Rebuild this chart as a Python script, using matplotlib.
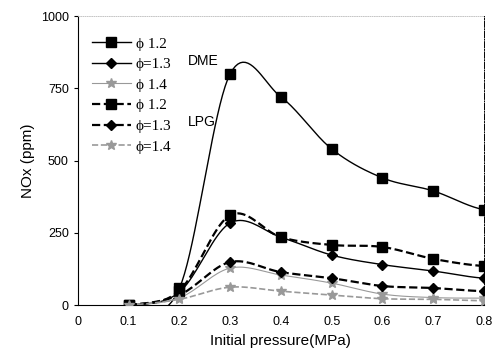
import numpy as np
import matplotlib.pyplot as plt
from matplotlib.lines import Line2D

plt.rcParams['font.family'] = ['Liberation Sans', 'DejaVu Sans']

p = np.array([0.1, 0.2, 0.3, 0.4, 0.5, 0.6, 0.7, 0.8])
dme_12 = np.array([0, 58, 800, 720, 540, 440, 395, 330])
dme_13 = np.array([0, 45, 284, 235, 173, 140, 118, 93])
dme_14 = np.array([0, 25, 128, 104, 76, 38, 26, 24])
lpg_12 = np.array([0, 50, 311, 235, 208, 201, 160, 135])
lpg_13 = np.array([0, 35, 149, 114, 93, 66, 59, 48])
lpg_14 = np.array([0, 20, 62, 48, 35, 22, 20, 15])


def smooth(x, y, n=20):
    # catmull-rom curve through the points, only for drawing the line
    xs, ys = [], []
    px = np.concatenate([[2 * x[0] - x[1]], x, [2 * x[-1] - x[-2]]])
    py = np.concatenate([[y[0]], y, [y[-1]]])
    for i in range(1, len(px) - 2):
        t = np.linspace(0, 1, n, endpoint=False)
        for arr, out in ((px, xs), (py, ys)):
            p0, p1, p2, p3 = arr[i - 1], arr[i], arr[i + 1], arr[i + 2]
            out.extend(0.5 * (2 * p1 + (-p0 + p2) * t
                              + (2 * p0 - 5 * p1 + 4 * p2 - p3) * t ** 2
                              + (-p0 + 3 * p1 - 3 * p2 + p3) * t ** 3))
    xs.append(x[-1])
    ys.append(y[-1])
    return np.array(xs), np.array(ys)


fig = plt.figure(figsize=(4.99, 3.56), dpi=100)
ax = fig.add_axes([0.156, 0.143, 0.814, 0.812])

series = [
    (dme_12, '-', 's', 'black', 1.0, 7, 'ϕ 1.2'),
    (dme_13, '-', 'D', 'black', 1.0, 5, 'ϕ=1.3'),
    (dme_14, '-', '*', '#999999', 0.8, 7, 'ϕ 1.4'),
    (lpg_12, '--', 's', 'black', 1.6, 7, 'ϕ 1.2'),
    (lpg_13, '--', 'D', 'black', 1.6, 5, 'ϕ=1.3'),
    (lpg_14, '--', '*', '#999999', 1.2, 7, 'ϕ=1.4'),
]

handles = []
for y, ls, mk, col, lw, ms, lab in series:
    sx, sy = smooth(p, y)
    ax.plot(sx, sy, ls=ls, color=col, lw=lw, zorder=2)
    ax.plot(p, y, ls='none', marker=mk, color=col, ms=ms, zorder=3)
    handles.append(Line2D([], [], ls=ls, color=col, lw=lw, marker=mk, ms=ms, label=lab))

leg = ax.legend(handles=handles, loc='upper left', bbox_to_anchor=(0.0, 0.975),
                frameon=False, handlelength=2.6, handletextpad=0.3,
                labelspacing=0.45, prop={'family': 'Liberation Serif', 'size': 11})
ax.text(0.27, 0.845, 'DME', transform=ax.transAxes, fontsize=10,
        ha='left', va='center')
ax.text(0.27, 0.635, 'LPG', transform=ax.transAxes, fontsize=10,
        ha='left', va='center')

ax.set_xlim(0, 0.8)
ax.set_ylim(0, 1000)
ax.set_xticks(np.arange(0, 0.81, 0.1))
ax.set_xticklabels(['0', '0.1', '0.2', '0.3', '0.4', '0.5', '0.6', '0.7', '0.8'])
ax.set_yticks([0, 250, 500, 750, 1000])
ax.tick_params(axis='x', length=0, labelsize=9, pad=8)
ax.tick_params(axis='y', length=3, labelsize=9, direction='out')
ax.spines['right'].set_linestyle('-.')
ax.spines['right'].set_linewidth(0.7)
ax.spines['top'].set_linestyle(':')
ax.spines['top'].set_color('#bbbbbb')
ax.spines['top'].set_linewidth(0.6)
ax.set_xlabel('Initial pressure(MPa)', fontsize=11)
ax.set_ylabel('NOx (ppm)', fontsize=11)

fig.savefig('out.png', dpi=100)
